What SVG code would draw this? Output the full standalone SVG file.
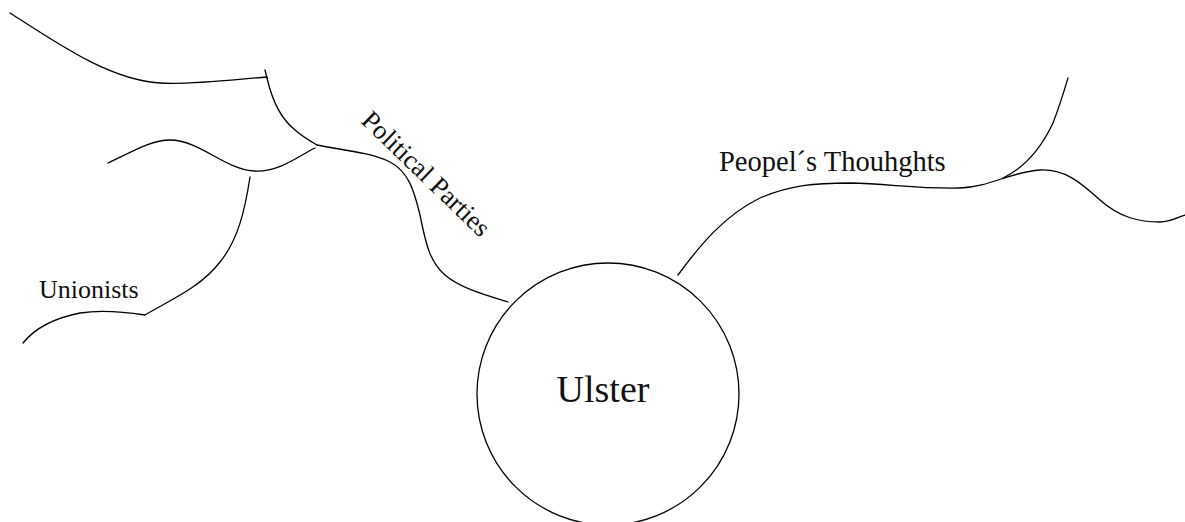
<svg xmlns="http://www.w3.org/2000/svg" width="1185" height="522" viewBox="0 0 1185 522">
<style>
.ln{fill:none;stroke:#000;stroke-width:1.3;stroke-linecap:round}
.t{fill:#111}
</style>
<rect width="1185" height="522" fill="#fff"/>
<g id="connectors">
<path class="ln" d="M10,13 C60,45 110,80 160,83 C190,85 230,80 267,77"/>
<path class="ln" d="M265,70 L267,78"/>
<path class="ln" d="M267,78 C272,100 280,118 295,130 C303,137 310,141 317,145"/>
<path class="ln" d="M317,145 C340,150 370,152 390,162 C410,172 415,195 420,215 C426,245 430,262 445,275 C460,288 485,295 508,302"/>
<path class="ln" d="M108,163 C130,153 150,140 170,140 C200,140 225,170 255,171 C280,172 300,155 315,148"/>
<path class="ln" d="M250,177 C245,210 238,240 220,262 C200,288 170,300 145,315 C125,312 100,310 80,313 C55,318 35,328 23,343"/>
<path class="ln" d="M678,275 C700,245 725,215 760,198 C790,185 815,183 850,183 C890,184 920,189 960,188 C990,187 1010,172 1040,170 C1065,169 1080,182 1100,200 C1120,218 1140,222 1160,222 C1170,222 1176,218 1185,215"/>
<path class="ln" d="M1003,178 C1030,165 1045,140 1053,123 C1060,105 1065,88 1068,78"/>
</g>
<g id="ulster">
<circle class="ln" cx="608" cy="394" r="131"/>
<text class="t" font-family="'Liberation Serif', 'DejaVu Serif', serif" x="603" y="402" font-size="38" text-anchor="middle">Ulster</text>
</g>
<g id="political-parties">
<text class="t" font-family="'Liberation Serif', 'DejaVu Serif', serif" x="0" y="0" font-size="26.5" transform="translate(360,122) rotate(44)">Political Parties</text>
</g>
<g id="unionists">
<text class="t" font-family="'Liberation Serif', 'DejaVu Serif', serif" x="39" y="298" font-size="26">Unionists</text>
</g>
<g id="peopels-thoughts">
<text class="t" font-family="'Liberation Serif', 'DejaVu Serif', serif" x="719" y="171" font-size="28.5">Peopel´s Thouhghts</text>
</g>
</svg>
